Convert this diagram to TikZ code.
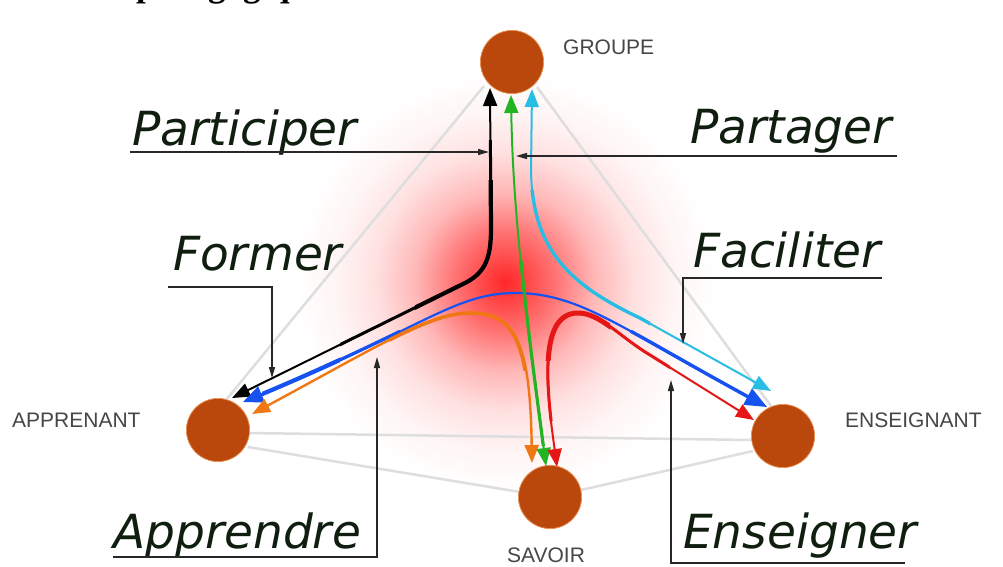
\documentclass[tikz,border=0pt]{standalone}
\usepackage{fontspec}
\setmainfont{Liberation Serif}
\setsansfont{Liberation Sans}
\newfontfamily\verbfont{DejaVu Sans}
\usetikzlibrary{arrows.meta,calc}

\definecolor{polefill}{RGB}{186,72,12}
\definecolor{poleedge}{RGB}{236,150,90}
\definecolor{labelgray}{RGB}{70,70,70}
\definecolor{edgegray}{RGB}{222,222,222}
\definecolor{verbink}{RGB}{16,30,16}
\definecolor{pointerink}{RGB}{40,40,40}
\definecolor{cgreen}{RGB}{34,180,34}
\definecolor{ccyan}{RGB}{40,190,228}
\definecolor{cblue}{RGB}{22,82,240}
\definecolor{corange}{RGB}{240,120,20}
\definecolor{cred}{RGB}{228,22,22}

% soft red halo in the middle of the triangle
\pgfdeclareradialshading{redglow}{\pgfpoint{0bp}{0bp}}{%
  color(0bp)=(red!85!white); color(5bp)=(red!55!white); color(9bp)=(red!28!white);
  color(13bp)=(red!12!white); color(17bp)=(red!4!white); color(21bp)=(white);
  color(50bp)=(white)}

\tikzset{
  pole/.style={circle, fill=polefill, draw=poleedge, line width=0.6pt,
    minimum size=63pt, inner sep=0pt},
  polename/.style={font=\sffamily\fontsize{21}{21}\selectfont, text=labelgray,
    inner sep=0pt},
  verbtext/.style={font=\verbfont\itshape\fontsize{47}{47}\selectfont,
    text=verbink, inner sep=0pt, anchor=base west},
  side/.style={draw=edgegray, line width=2.5pt},
  pointer/.style={draw=pointerink, line width=1.4pt,
    -{Triangle[length=11pt,width=6pt]}},
  flow/.style={line width=#1,
    {Triangle[length=18pt,width=14pt]}-{Triangle[length=18pt,width=14pt]}},
  bigflow/.style={line width=#1,
    {Triangle[length=20pt,width=17pt]}-{Triangle[length=22pt,width=18pt]}},
}

\begin{document}
\begin{tikzpicture}[x=1pt,y=-1pt]
\useasboundingbox (0,0) rectangle (1003,566);
\fill[white] (0,0) rectangle (1003,566);

% heading, only its lower edge lies inside the page
\begin{scope}
  \clip (0,0) rectangle (1003,566);
  \node[font=\rmfamily\bfseries\fontsize{35}{35}\selectfont, inner sep=0pt,
    anchor=base west] (titre) at (136,-4) {pédagogique};
\end{scope}

% halo
\shade[shading=redglow] (505,282) circle (250);

% poles
\node[pole] (groupe) at (512,62) {};
\node[pole] (apprenant) at (218,430) {};
\node[pole] (enseignant) at (783,436) {};
\node[pole] (savoir) at (550,497) {};

% sides of the triangle, behind the poles
\begin{scope}
  \clip (0,0) rectangle (1003,566);
  \path[side] ($(groupe)+(-28,24)$) -- ($(apprenant)+(8,-30)$);
  \path[side] ($(groupe)+(25,25)$) -- ($(enseignant)+(-12,-30)$);
  \path[side] ($(apprenant)+(30,3)$) -- ($(enseignant)+(-31,4)$);
  \path[side] ($(apprenant)+(30,17)$) -- ($(savoir)+(-30,-5)$);
  \path[side] ($(savoir)+(31,-7)$) -- ($(enseignant)+(-30,15)$);
\end{scope}
\node[pole] at (groupe) {};
\node[pole] at (apprenant) {};
\node[pole] at (enseignant) {};
\node[pole] at (savoir) {};

\node[polename, anchor=base west] (lgroupe) at (563,54) {GROUPE};
\node[polename, anchor=base west] (lapprenant) at (12,427) {APPRENANT};
\node[polename, anchor=base west] (lenseignant) at (845,427) {ENSEIGNANT};
\node[polename, anchor=base] (lsavoir) at (546,562) {SAVOIR};

% flows between the poles
\def\flowblack{($(apprenant)+(14,-32)$) -- (465,283)
  .. controls (487,272) and (491,255) .. (491,228) -- ($(groupe)+(-22,26)$)}
\def\flowblue{($(apprenant)+(25,-28)$) .. controls (423,328) and (455,293) .. (515,293)
  .. controls (580,293) and (620,328) .. ($(enseignant)+(-16,-29)$)}
\def\floworange{($(apprenant)+(34,-16)$) .. controls (380,345) and (430,313) .. (470,313)
  .. controls (515,313) and (530,340) .. ($(savoir)+(-18,-34)$)}
\def\flowgreen{($(groupe)+(-1,33)$) .. controls (513,220) and (528,330) .. ($(savoir)+(-4,-31)$)}
\def\flowcyan{($(groupe)+(20,27)$) -- (531,170)
  .. controls (532,250) and (570,285) .. (640,318) -- ($(enseignant)+(-12,-45)$)}
\def\flowred{($(savoir)+(7,-30)$) .. controls (548,400) and (535,313) .. (578,313)
  .. controls (600,313) and (620,337) .. (650,355) -- ($(enseignant)+(-29,-16)$)}

\draw[flow=2pt, black] \flowblack;
\begin{scope}\clip (340,140) rectangle (500,350); \draw[black, line width=3pt] \flowblack; \end{scope}
\begin{scope}\clip (415,180) rectangle (500,312); \draw[black, line width=4.2pt] \flowblack; \end{scope}

\draw[bigflow=2.2pt, cblue] \flowblue;
\begin{scope}\clip (262,330) rectangle (400,400); \draw[cblue, line width=3.2pt] \flowblue; \end{scope}
\begin{scope}\clip (262,350) rectangle (340,400); \draw[cblue, line width=4.2pt] \flowblue; \end{scope}
\begin{scope}\clip (630,330) rectangle (752,400); \draw[cblue, line width=3.4pt] \flowblue; \end{scope}

\draw[flow=2.4pt, corange] \floworange;
\begin{scope}\clip (390,300) rectangle (535,370); \draw[corange, line width=3.6pt] \floworange; \end{scope}

\draw[flow=2pt, cgreen] \flowgreen;
\begin{scope}\clip (500,260) rectangle (560,445); \draw[cgreen, line width=3.2pt] \flowgreen; \end{scope}

\draw[flow=2pt, ccyan] \flowcyan;
\begin{scope}\clip (520,190) rectangle (650,325); \draw[ccyan, line width=3.4pt] \flowcyan; \end{scope}

\draw[flow=2pt, cred] \flowred;
\begin{scope}\clip (538,300) rectangle (670,420); \draw[cred, line width=3pt] \flowred; \end{scope}
\begin{scope}\clip (540,305) rectangle (610,360); \draw[cred, line width=5pt] \flowred; \end{scope}

% verbs and their pointers
\node[verbtext] (participer) at (132,145) {Participer};
\node[verbtext] (partager) at (690,143) {Partager};
\node[verbtext] (former) at (173,270) {Former};
\node[verbtext] (faciliter) at (693,267) {Faciliter};
\node[verbtext] (apprendre) at (113,548) {Apprendre};
\node[verbtext] (enseigner) at (683,548) {Enseigner};

\coordinate (participerA) at (130,152);
\coordinate (participerB) at (489,152);
\coordinate (partagerA) at (897,156);
\coordinate (partagerB) at (516,156);
\coordinate (formerA) at (168,287);
\coordinate (formerB) at (272,378);
\coordinate (faciliterA) at (882,278);
\coordinate (faciliterB) at (683,344);
\coordinate (apprendreA) at (113,557);
\coordinate (apprendreB) at (377,357);
\coordinate (enseignerA) at (905,563);
\coordinate (enseignerB) at (671,380);

\draw[pointer] (participerA) -- (participerB);
\draw[pointer] (partagerA) -- (partagerB);
\draw[pointer] (formerA) -| (formerB);
\draw[pointer] (faciliterA) -| (faciliterB);
\draw[pointer] (apprendreA) -| (apprendreB);
\draw[pointer] (enseignerA) -| (enseignerB);
\end{tikzpicture}
\end{document}
